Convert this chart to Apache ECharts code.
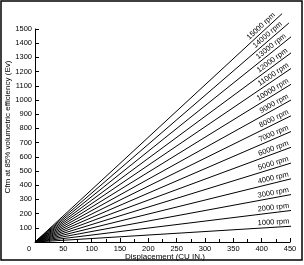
<!DOCTYPE html>
<html lang="en">
<head>
<meta charset="UTF-8">
<title>Cfm vs displacement</title>
<script src="https://cdn.jsdelivr.net/npm/echarts@6/dist/echarts.min.js"></script>
<style>html,body{margin:0;padding:0;background:#fff}</style>
</head>
<body>
<div id="main" style="width:304px;height:265px"></div>
<script>
  // one straight line per engine speed, from the origin to where it stops
  var rpmNames = ['1000 rpm','2000 rpm','3000 rpm','4000 rpm','5000 rpm','6000 rpm','7000 rpm','8000 rpm',
                  '9000 rpm','10000 rpm','11000 rpm','12000 rpm','13000 rpm','14000 rpm','15000 rpm'];
  var endCid = [460, 460, 460, 460, 460, 460, 460, 460, 460, 460, 460, 458, 455, 448, 436];
  var endCfm = [113, 226, 340, 453, 566, 679, 792, 905, 1018, 1131, 1244, 1350, 1455, 1542, 1608];

  var font = 'Liberation Sans, Arial, sans-serif';
  var chart = echarts.init(document.getElementById('main'));

  function buildSeries(rot){
    return rpmNames.map(function(name, i){
      return {
        type:'line', name:name, clip:false, silent:true, animation:false,
        symbol:'circle', symbolSize:0.01, showSymbol:true,
        lineStyle:{color:'#000', width:1},
        itemStyle:{color:'#000'},
        emphasis:{disabled:true},
        data:[[0, 0], {
          value:[endCid[i], endCfm[i]],
          label:{show:true, position:'inside', formatter:name, rotate:rot ? rot[i] : 0,
                 align:'right', verticalAlign:'bottom', offset:[-6, -1],
                 fontSize:7.5, color:'#000', fontFamily:font}
        }]
      };
    });
  }

  chart.setOption({
    animation:false,
    graphic:[{type:'rect', shape:{x:1, y:1, width:301, height:259},
              style:{fill:null, stroke:'#000', lineWidth:1.5}}],
    grid:{left:35, right:14, top:29, bottom:23, outerBoundsMode:'none'},
    xAxis:{
      type:'value', min:0, max:450, interval:50,
      name:'Displacement (CU IN.)', nameLocation:'middle', nameGap:11, nameMoveOverlap:false,
      nameTextStyle:{fontSize:8, color:'#000', fontFamily:font, padding:[0,0,0,5]},
      axisLine:{lineStyle:{color:'#000', width:1}},
      axisTick:{inside:true, length:4, lineStyle:{color:'#000'}},
      minorTick:{show:true, splitNumber:2, length:3, lineStyle:{color:'#000'}},
      splitLine:{show:false},
      axisLabel:{fontSize:7.5, color:'#000', fontFamily:font, margin:3,
                 formatter:function(v){ return v === 0 ? '{z|0}' : String(v); },
                 rich:{z:{fontSize:7.5, color:'#000', fontFamily:font, padding:[0,12,0,0]}}}
    },
    yAxis:{
      type:'value', min:0, max:1500, interval:100,
      name:'Cfm at 85% volumetric efficiency (Ev)', nameLocation:'middle', nameGap:23, nameMoveOverlap:false,
      nameTextStyle:{fontSize:8, color:'#000', fontFamily:font, padding:[0,0,0,17]},
      axisLine:{show:true, lineStyle:{color:'#000', width:1}},
      axisTick:{show:true, inside:true, length:4, lineStyle:{color:'#000'}},
      splitLine:{show:false},
      axisLabel:{fontSize:7.5, color:'#000', fontFamily:font, margin:3, showMinLabel:false,
                 formatter:function(v){ return String(v); }}
    },
    series:buildSeries(null)
  });

  // turn each label to lie along its own line
  var p0 = chart.convertToPixel({gridIndex:0}, [0, 0]);
  var rot = endCid.map(function(c, i){
    var p1 = chart.convertToPixel({gridIndex:0}, [c, endCfm[i]]);
    return Math.atan2(p0[1] - p1[1], p1[0] - p0[0]) * 180 / Math.PI;
  });
  chart.setOption({series:buildSeries(rot)});
</script>
</body>
</html>
